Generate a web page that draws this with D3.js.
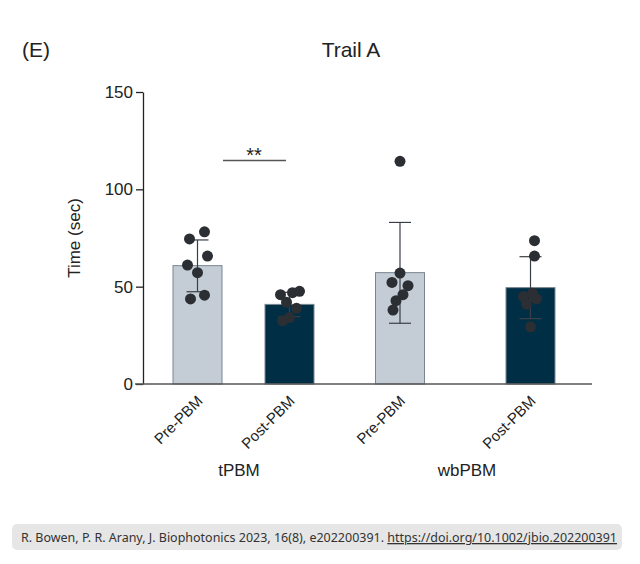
<!DOCTYPE html>
<html>
<head>
<meta charset="utf-8">
<script src="https://cdn.jsdelivr.net/npm/d3@7"></script>
<style>
body { margin: 0; background: #fff; font-family: "Liberation Sans", Arial, sans-serif; }
</style>
</head>
<body>
<div id="chart"></div>
<script>
// data
var categories = ["tPBM Pre", "tPBM Post", "wbPBM Pre", "wbPBM Post"];
var tickLabels = ["Pre-PBM", "Post-PBM", "Pre-PBM", "Post-PBM"];
var means = [60.8, 40.9, 57.2, 49.5];
var errHigh = [74, 47.1, 83, 65.4];
var errLow = [47.4, 34.6, 31.2, 33.6];
var fills = ["#c4ccd5", "#002f45", "#c4ccd5", "#002f45"];
// individual points: [category index, horizontal jitter (px), value]
var points = [
  [0, -8, 74.5], [0, 7, 78.2], [0, 10, 65.7], [0, -10, 61.1], [0, 0, 57.2], [0, -7, 43.7], [0, 7, 45.6],
  [1, -9, 45.9], [1, 3, 46.9], [1, 10, 47.6], [1, -3, 42], [1, 7, 38.9], [1, 0, 34.1], [1, -7, 32.5],
  [2, 0, 114.4], [2, 0, 57], [2, -8, 52.2], [2, 8, 50.5], [2, 3, 45.9], [2, -4, 42.8], [2, -7, 38],
  [3, 4, 73.6], [3, 4, 65.7], [3, -7, 44.9], [3, 2, 46.6], [3, 6, 43.7], [3, -4, 41.1], [3, 0, 29.4]
];
var groups = ["tPBM", "wbPBM"];
var yTicks = [0, 50, 100, 150];

var svg = d3.select("#chart").append("svg").attr("width", 640).attr("height", 564);

var x = d3.scaleOrdinal().domain(categories).range([197.5, 289.5, 400, 530.5]);
var y = d3.scaleLinear().domain([0, 150]).range([384, 92]);
var barW = 49;

// y axis
var yAxis = svg.append("g").attr("transform", "translate(143,0)")
  .call(d3.axisLeft(y).tickValues(yTicks).tickSize(7).tickSizeOuter(0));
yAxis.select(".domain").attr("stroke", "#222").attr("stroke-width", 1.3);
yAxis.selectAll(".tick line").attr("stroke", "#222").attr("stroke-width", 1.3);
yAxis.selectAll("text").attr("font-size", 17).attr("fill", "#222").attr("font-family", "Liberation Sans, Arial");

svg.append("text").attr("transform", "translate(80,238) rotate(-90)")
  .attr("text-anchor", "middle").attr("font-size", 17).attr("fill", "#222").text("Time (sec)");

// bars
svg.selectAll("rect.bar").data(categories).enter().append("rect")
  .attr("x", d => x(d) - barW / 2)
  .attr("y", (d, i) => y(means[i]))
  .attr("width", barW)
  .attr("height", (d, i) => y(0) - y(means[i]))
  .attr("fill", (d, i) => fills[i])
  .attr("stroke", "#7a8590").attr("stroke-width", 1);

// baseline
svg.append("line").attr("x1", 135).attr("x2", 592).attr("y1", y(0)).attr("y2", y(0))
  .attr("stroke", "#555").attr("stroke-width", 1.3);

// error bars
var eb = svg.selectAll("g.err").data(categories).enter().append("g");
eb.append("line").attr("x1", d => x(d)).attr("x2", d => x(d))
  .attr("y1", (d, i) => y(errHigh[i])).attr("y2", (d, i) => y(errLow[i]));
eb.append("line").attr("x1", d => x(d) - 11).attr("x2", d => x(d) + 11)
  .attr("y1", (d, i) => y(errHigh[i])).attr("y2", (d, i) => y(errHigh[i]));
eb.append("line").attr("x1", d => x(d) - 11).attr("x2", d => x(d) + 11)
  .attr("y1", (d, i) => y(errLow[i])).attr("y2", (d, i) => y(errLow[i]));
eb.selectAll("line").attr("stroke", "#3a3f45").attr("stroke-width", 1.2);

// points
svg.selectAll("circle.pt").data(points).enter().append("circle")
  .attr("cx", d => x(categories[d[0]]) + d[1])
  .attr("cy", d => y(d[2]))
  .attr("r", 5.5)
  .attr("fill", "#2b2e33");

// significance
svg.append("line").attr("x1", 223).attr("x2", 286).attr("y1", 160.5).attr("y2", 160.5)
  .attr("stroke", "#555").attr("stroke-width", 1.5);
svg.append("text").attr("x", 254).attr("y", 162).attr("text-anchor", "middle")
  .attr("font-size", 20).attr("fill", "#222").text("**");

// category tick labels
svg.selectAll("text.cat").data(categories).enter().append("text")
  .attr("transform", d => `translate(${x(d) + 6},${y(0) + 18}) rotate(-45)`)
  .attr("text-anchor", "end").attr("font-size", 15).attr("fill", "#222")
  .text((d, i) => tickLabels[i]);

// group labels
svg.selectAll("text.grp").data(groups).enter().append("text")
  .attr("x", (d, i) => i === 0 ? 239 : 467).attr("y", 476)
  .attr("text-anchor", "middle").attr("font-size", 17).attr("fill", "#222").text(d => d);

// titles
svg.append("text").attr("x", 22).attr("y", 57).attr("font-size", 21).attr("fill", "#222").text("(E)");
svg.append("text").attr("x", 351).attr("y", 57).attr("text-anchor", "middle")
  .attr("font-size", 21).attr("fill", "#222").text("Trail A");

// footer
svg.append("rect").attr("x", 12).attr("y", 524).attr("width", 610).attr("height", 26)
  .attr("rx", 5).attr("fill", "#e6e6e6");
var ft = svg.append("text").attr("x", 21).attr("y", 542).attr("font-size", 13)
  .attr("textLength", 596).attr("lengthAdjust", "spacingAndGlyphs")
  .attr("fill", "#333").attr("font-family", "Noto Sans, sans-serif");
ft.append("tspan").text("R. Bowen, P. R. Arany, J. Biophotonics 2023, 16(8), e202200391. ");
ft.append("tspan").attr("text-decoration", "underline").text("https://doi.org/10.1002/jbio.202200391");
</script>
</body>
</html>
